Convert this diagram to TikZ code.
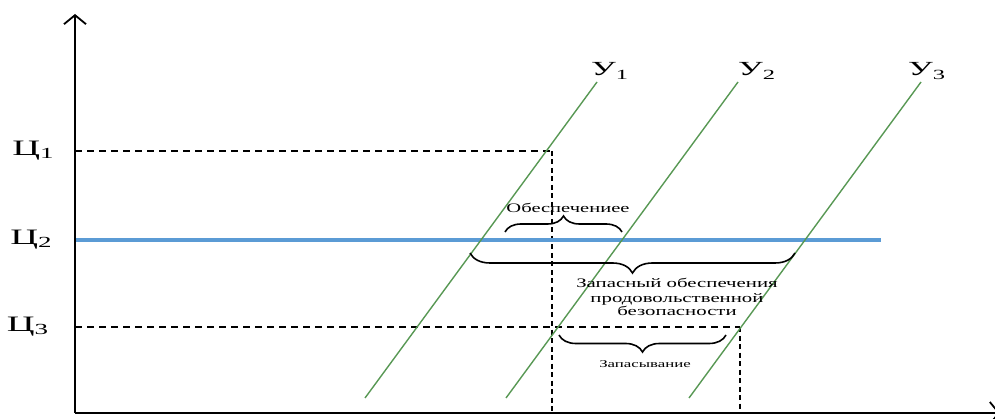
\documentclass[tikz,border=0pt]{standalone}
\usepackage{fontspec}
\setmainfont{Liberation Serif}
\usetikzlibrary{arrows.meta,decorations.pathreplacing}
\definecolor{blueln}{RGB}{91,155,213}
\definecolor{greenln}{RGB}{88,152,84}
\newcommand{\widen}[2][1.45]{\scalebox{#1}[1]{#2}}
\begin{document}
\begin{tikzpicture}[x=1pt,y=1pt,
  axis/.style={line width=2pt,-{Straight Barb[length=9pt,width=22pt,line width=1.8pt]}},
  dashline/.style={line width=1.1pt,dash pattern=on 7pt off 5pt},
  vdash/.style={line width=1.8pt,dash pattern=on 5pt off 3.5pt},
  supply/.style={greenln,line width=1.4pt},
  lbl/.style={inner sep=0pt,font=\fontsize{20}{20}\selectfont},
  plbl/.style={inner sep=0pt,font=\fontsize{22}{22}\selectfont},
  brc/.style={line width=1.6pt,decorate,decoration={brace,amplitude=#1}},
  txt/.style={inner sep=0pt,align=center}]
\useasboundingbox (0,0) rectangle (995,-419);
\coordinate (O) at (75,-413);
\coordinate (Ytop) at (75,-14);
\coordinate (Xend) at (1000,-413);
% price levels
\coordinate (c1) at (75,-151);
\coordinate (c2) at (75,-240);
\coordinate (c3) at (75,-327);
\coordinate (d1) at (552,-151);
\coordinate (d1b) at (552,-413);
\coordinate (b2) at (881,-240);
\coordinate (d3) at (740,-327);
\coordinate (d3b) at (740,-413);
\draw[dashline] (c1) -- (d1);
\draw[vdash] (d1) -- (d1b);
\draw[dashline] (c3) -- (d3);
\draw[vdash] (d3) -- (d3b);
\draw[blueln,line width=3.5pt] (c2) -- (b2);
% supply lines
\coordinate (u1a) at (365,-398); \coordinate (u1b) at (597,-82);
\coordinate (u2a) at (506,-398); \coordinate (u2b) at (738,-82);
\coordinate (u3a) at (689,-398); \coordinate (u3b) at (921,-82);
\draw[supply] (u1a) -- (u1b);
\draw[supply] (u2a) -- (u2b);
\draw[supply] (u3a) -- (u3b);
% axes
\draw[axis] (O) -- (Ytop);
\draw[axis] (O) -- (Xend);
% labels
\node[plbl] (L1) at (33.5,-151) {\widen[1.75]{Ц\textsubscript{1}}};
\node[plbl] (L2) at (31.5,-240) {\widen[1.75]{Ц\textsubscript{2}}};
\node[plbl] (L3) at (28,-327) {\widen[1.75]{Ц\textsubscript{3}}};
\node[lbl] (U1) at (610,-71) {\widen[1.75]{У\textsubscript{1}}};
\node[lbl] (U2) at (757,-71) {\widen[1.75]{У\textsubscript{2}}};
\node[lbl] (U3) at (927,-71) {\widen[1.75]{У\textsubscript{3}}};
% braces
\coordinate (br1a) at (505,-232); \coordinate (br1b) at (622,-232);
\draw[brc=16pt] (br1a) -- (br1b);
\coordinate (br2a) at (795,-253); \coordinate (br2b) at (470,-253);
\draw[brc=20pt] (br2a) -- (br2b);
\coordinate (br3a) at (726,-335); \coordinate (br3b) at (559,-335);
\draw[brc=17pt] (br3a) -- (br3b);
\node[txt,font=\fontsize{13}{13}\selectfont] (T1) at (568,-208) {\widen[1.58]{Обеспечениее}};
\node[txt,anchor=base,font=\fontsize{13}{13}\selectfont] (T2a) at (677,-288) {\widen[1.6]{Запасный обеспечения}};
\node[txt,anchor=base,font=\fontsize{13}{13}\selectfont] (T2b) at (677,-302) {\widen[1.6]{продовольственной}};
\node[txt,anchor=base,font=\fontsize{13}{13}\selectfont] (T2c) at (677,-316) {\widen[1.6]{безопасности}};
\node[txt,font=\fontsize{10.5}{10.5}\selectfont] (T3) at (645,-364) {\widen[1.6]{Запасывание}};
\end{tikzpicture}
\end{document}
